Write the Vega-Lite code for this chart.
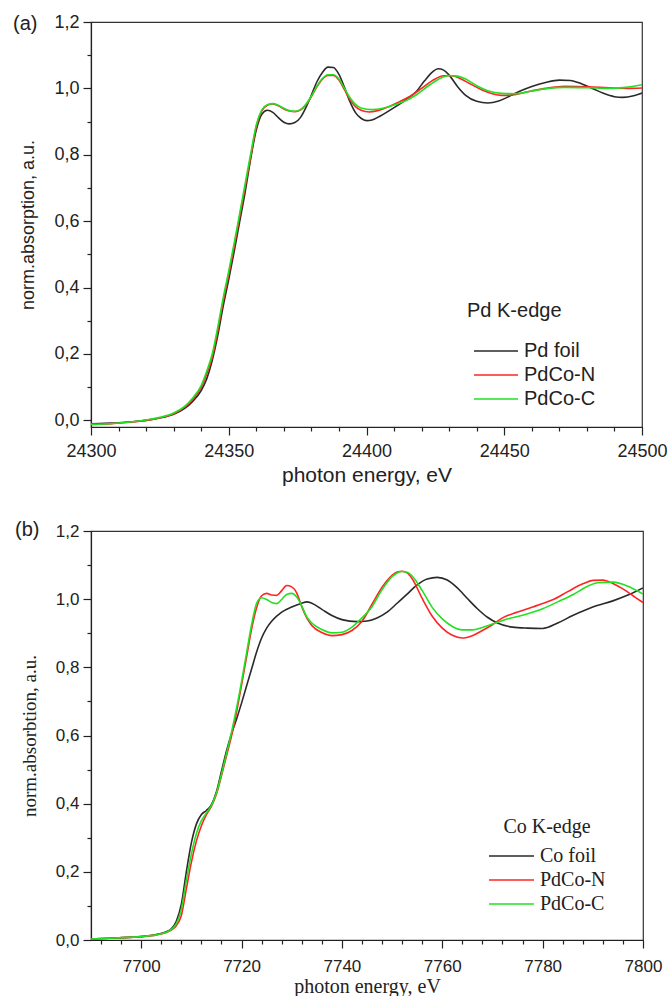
{
"$schema": "https://vega.github.io/schema/vega-lite/v6.json",
"padding": {"left": 12, "top": 12, "right": 0, "bottom": 0},
"background": "white",
"spacing": 33,
"config": {
  "view": {"stroke": "#333", "strokeWidth": 1.2},
  "axis": {"grid": false, "domainColor": "#222", "tickColor": "#222", "labelColor": "#222", "titleColor": "#222", "domainWidth": 1.2, "tickWidth": 1.2, "labelFont": "Liberation Sans", "titleFontWeight": "normal", "labelFlush": false, "labelOverlap": false},
  "legend": {"orient": "none", "symbolType": "stroke", "symbolStrokeWidth": 1.5, "titleFontWeight": "normal", "titleColor": "#222", "labelColor": "#222", "clipHeight": 22, "rowPadding": 2, "labelOffset": 6, "padding": 0},
  "title": {"fontWeight": "normal", "color": "#222"}
},
"resolve": {"scale": {"color": "independent"}, "legend": {"color": "independent"}},
"datasets": {
"pd": [
{"s":"Pd foil","E":24300,"v":-0.010},{"s":"Pd foil","E":24305,"v":-0.009},{"s":"Pd foil","E":24310,"v":-0.007},{"s":"Pd foil","E":24315,"v":-0.004},{"s":"Pd foil","E":24320,"v":0.000},{"s":"Pd foil","E":24325,"v":0.007},{"s":"Pd foil","E":24330,"v":0.018},{"s":"Pd foil","E":24334,"v":0.036},{"s":"Pd foil","E":24337,"v":0.058},{"s":"Pd foil","E":24340,"v":0.090},{"s":"Pd foil","E":24342,"v":0.125},{"s":"Pd foil","E":24344,"v":0.180},{"s":"Pd foil","E":24346,"v":0.255},{"s":"Pd foil","E":24348,"v":0.345},{"s":"Pd foil","E":24350,"v":0.425},{"s":"Pd foil","E":24352,"v":0.510},{"s":"Pd foil","E":24354,"v":0.600},{"s":"Pd foil","E":24356,"v":0.690},{"s":"Pd foil","E":24358,"v":0.790},{"s":"Pd foil","E":24360,"v":0.875},{"s":"Pd foil","E":24362,"v":0.922},{"s":"Pd foil","E":24364,"v":0.934},{"s":"Pd foil","E":24366,"v":0.928},{"s":"Pd foil","E":24368,"v":0.912},{"s":"Pd foil","E":24370,"v":0.898},{"s":"Pd foil","E":24372,"v":0.893},{"s":"Pd foil","E":24374,"v":0.897},{"s":"Pd foil","E":24376,"v":0.912},{"s":"Pd foil","E":24378,"v":0.942},{"s":"Pd foil","E":24380,"v":0.980},{"s":"Pd foil","E":24382,"v":1.020},{"s":"Pd foil","E":24384,"v":1.048},{"s":"Pd foil","E":24386,"v":1.064},{"s":"Pd foil","E":24388,"v":1.063},{"s":"Pd foil","E":24390,"v":1.042},{"s":"Pd foil","E":24392,"v":1.003},{"s":"Pd foil","E":24394,"v":0.960},{"s":"Pd foil","E":24396,"v":0.927},{"s":"Pd foil","E":24398,"v":0.910},{"s":"Pd foil","E":24400,"v":0.903},{"s":"Pd foil","E":24402,"v":0.905},{"s":"Pd foil","E":24405,"v":0.917},{"s":"Pd foil","E":24410,"v":0.942},{"s":"Pd foil","E":24415,"v":0.970},{"s":"Pd foil","E":24418,"v":0.990},{"s":"Pd foil","E":24421,"v":1.022},{"s":"Pd foil","E":24424,"v":1.050},{"s":"Pd foil","E":24426,"v":1.059},{"s":"Pd foil","E":24428,"v":1.055},{"s":"Pd foil","E":24430,"v":1.040},{"s":"Pd foil","E":24433,"v":1.006},{"s":"Pd foil","E":24436,"v":0.979},{"s":"Pd foil","E":24440,"v":0.961},{"s":"Pd foil","E":24444,"v":0.956},{"s":"Pd foil","E":24448,"v":0.962},{"s":"Pd foil","E":24452,"v":0.977},{"s":"Pd foil","E":24456,"v":0.993},{"s":"Pd foil","E":24460,"v":1.006},{"s":"Pd foil","E":24465,"v":1.018},{"s":"Pd foil","E":24470,"v":1.025},{"s":"Pd foil","E":24474,"v":1.024},{"s":"Pd foil","E":24478,"v":1.014},{"s":"Pd foil","E":24482,"v":1.000},{"s":"Pd foil","E":24486,"v":0.985},{"s":"Pd foil","E":24490,"v":0.975},{"s":"Pd foil","E":24493,"v":0.973},{"s":"Pd foil","E":24497,"v":0.978},{"s":"Pd foil","E":24500,"v":0.986},
{"s":"PdCo-N","E":24300,"v":-0.012},{"s":"PdCo-N","E":24305,"v":-0.011},{"s":"PdCo-N","E":24310,"v":-0.008},{"s":"PdCo-N","E":24315,"v":-0.005},{"s":"PdCo-N","E":24320,"v":0.000},{"s":"PdCo-N","E":24325,"v":0.008},{"s":"PdCo-N","E":24330,"v":0.020},{"s":"PdCo-N","E":24334,"v":0.040},{"s":"PdCo-N","E":24337,"v":0.064},{"s":"PdCo-N","E":24340,"v":0.100},{"s":"PdCo-N","E":24342,"v":0.140},{"s":"PdCo-N","E":24344,"v":0.190},{"s":"PdCo-N","E":24346,"v":0.270},{"s":"PdCo-N","E":24348,"v":0.360},{"s":"PdCo-N","E":24350,"v":0.440},{"s":"PdCo-N","E":24352,"v":0.525},{"s":"PdCo-N","E":24354,"v":0.615},{"s":"PdCo-N","E":24356,"v":0.705},{"s":"PdCo-N","E":24358,"v":0.795},{"s":"PdCo-N","E":24360,"v":0.885},{"s":"PdCo-N","E":24362,"v":0.932},{"s":"PdCo-N","E":24364,"v":0.949},{"s":"PdCo-N","E":24366,"v":0.953},{"s":"PdCo-N","E":24368,"v":0.948},{"s":"PdCo-N","E":24370,"v":0.938},{"s":"PdCo-N","E":24372,"v":0.932},{"s":"PdCo-N","E":24374,"v":0.930},{"s":"PdCo-N","E":24376,"v":0.935},{"s":"PdCo-N","E":24378,"v":0.950},{"s":"PdCo-N","E":24380,"v":0.975},{"s":"PdCo-N","E":24382,"v":1.005},{"s":"PdCo-N","E":24384,"v":1.028},{"s":"PdCo-N","E":24386,"v":1.039},{"s":"PdCo-N","E":24388,"v":1.039},{"s":"PdCo-N","E":24390,"v":1.025},{"s":"PdCo-N","E":24392,"v":0.996},{"s":"PdCo-N","E":24394,"v":0.966},{"s":"PdCo-N","E":24396,"v":0.945},{"s":"PdCo-N","E":24398,"v":0.934},{"s":"PdCo-N","E":24401,"v":0.929},{"s":"PdCo-N","E":24404,"v":0.933},{"s":"PdCo-N","E":24408,"v":0.945},{"s":"PdCo-N","E":24412,"v":0.960},{"s":"PdCo-N","E":24416,"v":0.977},{"s":"PdCo-N","E":24420,"v":1.000},{"s":"PdCo-N","E":24424,"v":1.024},{"s":"PdCo-N","E":24428,"v":1.038},{"s":"PdCo-N","E":24431,"v":1.038},{"s":"PdCo-N","E":24434,"v":1.030},{"s":"PdCo-N","E":24438,"v":1.012},{"s":"PdCo-N","E":24442,"v":0.995},{"s":"PdCo-N","E":24446,"v":0.983},{"s":"PdCo-N","E":24449,"v":0.979},{"s":"PdCo-N","E":24453,"v":0.980},{"s":"PdCo-N","E":24458,"v":0.989},{"s":"PdCo-N","E":24465,"v":1.000},{"s":"PdCo-N","E":24472,"v":1.006},{"s":"PdCo-N","E":24480,"v":1.005},{"s":"PdCo-N","E":24488,"v":1.002},{"s":"PdCo-N","E":24495,"v":1.000},{"s":"PdCo-N","E":24500,"v":1.001},
{"s":"PdCo-C","E":24300,"v":-0.012},{"s":"PdCo-C","E":24305,"v":-0.011},{"s":"PdCo-C","E":24310,"v":-0.008},{"s":"PdCo-C","E":24315,"v":-0.004},{"s":"PdCo-C","E":24320,"v":0.001},{"s":"PdCo-C","E":24325,"v":0.009},{"s":"PdCo-C","E":24330,"v":0.022},{"s":"PdCo-C","E":24334,"v":0.042},{"s":"PdCo-C","E":24337,"v":0.068},{"s":"PdCo-C","E":24340,"v":0.105},{"s":"PdCo-C","E":24342,"v":0.148},{"s":"PdCo-C","E":24344,"v":0.200},{"s":"PdCo-C","E":24346,"v":0.280},{"s":"PdCo-C","E":24348,"v":0.370},{"s":"PdCo-C","E":24350,"v":0.450},{"s":"PdCo-C","E":24352,"v":0.535},{"s":"PdCo-C","E":24354,"v":0.625},{"s":"PdCo-C","E":24356,"v":0.715},{"s":"PdCo-C","E":24358,"v":0.805},{"s":"PdCo-C","E":24360,"v":0.890},{"s":"PdCo-C","E":24362,"v":0.935},{"s":"PdCo-C","E":24364,"v":0.951},{"s":"PdCo-C","E":24366,"v":0.954},{"s":"PdCo-C","E":24368,"v":0.949},{"s":"PdCo-C","E":24370,"v":0.940},{"s":"PdCo-C","E":24372,"v":0.933},{"s":"PdCo-C","E":24374,"v":0.931},{"s":"PdCo-C","E":24376,"v":0.936},{"s":"PdCo-C","E":24378,"v":0.952},{"s":"PdCo-C","E":24380,"v":0.977},{"s":"PdCo-C","E":24382,"v":1.007},{"s":"PdCo-C","E":24384,"v":1.030},{"s":"PdCo-C","E":24386,"v":1.041},{"s":"PdCo-C","E":24388,"v":1.041},{"s":"PdCo-C","E":24390,"v":1.028},{"s":"PdCo-C","E":24392,"v":1.000},{"s":"PdCo-C","E":24394,"v":0.972},{"s":"PdCo-C","E":24396,"v":0.952},{"s":"PdCo-C","E":24398,"v":0.941},{"s":"PdCo-C","E":24402,"v":0.936},{"s":"PdCo-C","E":24406,"v":0.940},{"s":"PdCo-C","E":24410,"v":0.950},{"s":"PdCo-C","E":24414,"v":0.962},{"s":"PdCo-C","E":24418,"v":0.980},{"s":"PdCo-C","E":24422,"v":1.005},{"s":"PdCo-C","E":24426,"v":1.027},{"s":"PdCo-C","E":24430,"v":1.039},{"s":"PdCo-C","E":24433,"v":1.037},{"s":"PdCo-C","E":24436,"v":1.028},{"s":"PdCo-C","E":24440,"v":1.008},{"s":"PdCo-C","E":24444,"v":0.993},{"s":"PdCo-C","E":24449,"v":0.985},{"s":"PdCo-C","E":24454,"v":0.984},{"s":"PdCo-C","E":24460,"v":0.992},{"s":"PdCo-C","E":24466,"v":1.000},{"s":"PdCo-C","E":24472,"v":1.003},{"s":"PdCo-C","E":24480,"v":1.002},{"s":"PdCo-C","E":24488,"v":1.000},{"s":"PdCo-C","E":24494,"v":1.003},{"s":"PdCo-C","E":24500,"v":1.011}
],
"co": [
{"s":"Co foil","E":7690,"v":0.003},{"s":"Co foil","E":7695,"v":0.006},{"s":"Co foil","E":7700,"v":0.010},{"s":"Co foil","E":7703,"v":0.016},{"s":"Co foil","E":7705,"v":0.024},{"s":"Co foil","E":7706,"v":0.033},{"s":"Co foil","E":7707,"v":0.055},{"s":"Co foil","E":7708,"v":0.105},{"s":"Co foil","E":7709,"v":0.200},{"s":"Co foil","E":7710,"v":0.285},{"s":"Co foil","E":7711,"v":0.340},{"s":"Co foil","E":7712,"v":0.368},{"s":"Co foil","E":7713,"v":0.380},{"s":"Co foil","E":7714,"v":0.397},{"s":"Co foil","E":7715,"v":0.435},{"s":"Co foil","E":7716,"v":0.495},{"s":"Co foil","E":7717,"v":0.555},{"s":"Co foil","E":7718,"v":0.605},{"s":"Co foil","E":7719,"v":0.648},{"s":"Co foil","E":7720,"v":0.695},{"s":"Co foil","E":7721,"v":0.745},{"s":"Co foil","E":7722,"v":0.795},{"s":"Co foil","E":7723,"v":0.845},{"s":"Co foil","E":7724,"v":0.886},{"s":"Co foil","E":7725,"v":0.915},{"s":"Co foil","E":7726,"v":0.935},{"s":"Co foil","E":7727,"v":0.950},{"s":"Co foil","E":7728,"v":0.962},{"s":"Co foil","E":7730,"v":0.977},{"s":"Co foil","E":7732,"v":0.988},{"s":"Co foil","E":7733,"v":0.992},{"s":"Co foil","E":7734,"v":0.988},{"s":"Co foil","E":7736,"v":0.970},{"s":"Co foil","E":7738,"v":0.952},{"s":"Co foil","E":7740,"v":0.940},{"s":"Co foil","E":7743,"v":0.934},{"s":"Co foil","E":7745,"v":0.936},{"s":"Co foil","E":7747,"v":0.945},{"s":"Co foil","E":7749,"v":0.962},{"s":"Co foil","E":7751,"v":0.988},{"s":"Co foil","E":7753,"v":1.015},{"s":"Co foil","E":7755,"v":1.042},{"s":"Co foil","E":7757,"v":1.059},{"s":"Co foil","E":7759,"v":1.064},{"s":"Co foil","E":7761,"v":1.056},{"s":"Co foil","E":7763,"v":1.033},{"s":"Co foil","E":7765,"v":1.002},{"s":"Co foil","E":7767,"v":0.972},{"s":"Co foil","E":7769,"v":0.947},{"s":"Co foil","E":7771,"v":0.930},{"s":"Co foil","E":7774,"v":0.918},{"s":"Co foil","E":7777,"v":0.915},{"s":"Co foil","E":7780,"v":0.914},{"s":"Co foil","E":7783,"v":0.930},{"s":"Co foil","E":7786,"v":0.952},{"s":"Co foil","E":7790,"v":0.977},{"s":"Co foil","E":7794,"v":0.995},{"s":"Co foil","E":7797,"v":1.012},{"s":"Co foil","E":7800,"v":1.033},
{"s":"PdCo-N","E":7690,"v":0.003},{"s":"PdCo-N","E":7695,"v":0.006},{"s":"PdCo-N","E":7700,"v":0.010},{"s":"PdCo-N","E":7703,"v":0.015},{"s":"PdCo-N","E":7705,"v":0.022},{"s":"PdCo-N","E":7706,"v":0.029},{"s":"PdCo-N","E":7707,"v":0.042},{"s":"PdCo-N","E":7708,"v":0.072},{"s":"PdCo-N","E":7709,"v":0.150},{"s":"PdCo-N","E":7710,"v":0.228},{"s":"PdCo-N","E":7711,"v":0.290},{"s":"PdCo-N","E":7712,"v":0.335},{"s":"PdCo-N","E":7713,"v":0.368},{"s":"PdCo-N","E":7714,"v":0.392},{"s":"PdCo-N","E":7715,"v":0.428},{"s":"PdCo-N","E":7716,"v":0.482},{"s":"PdCo-N","E":7717,"v":0.540},{"s":"PdCo-N","E":7718,"v":0.598},{"s":"PdCo-N","E":7719,"v":0.668},{"s":"PdCo-N","E":7720,"v":0.748},{"s":"PdCo-N","E":7721,"v":0.830},{"s":"PdCo-N","E":7722,"v":0.912},{"s":"PdCo-N","E":7723,"v":0.975},{"s":"PdCo-N","E":7724,"v":1.010},{"s":"PdCo-N","E":7725,"v":1.017},{"s":"PdCo-N","E":7726,"v":1.012},{"s":"PdCo-N","E":7727,"v":1.011},{"s":"PdCo-N","E":7728,"v":1.025},{"s":"PdCo-N","E":7729,"v":1.040},{"s":"PdCo-N","E":7730,"v":1.036},{"s":"PdCo-N","E":7731,"v":1.018},{"s":"PdCo-N","E":7732,"v":0.978},{"s":"PdCo-N","E":7733,"v":0.945},{"s":"PdCo-N","E":7734,"v":0.923},{"s":"PdCo-N","E":7736,"v":0.902},{"s":"PdCo-N","E":7738,"v":0.893},{"s":"PdCo-N","E":7740,"v":0.896},{"s":"PdCo-N","E":7742,"v":0.908},{"s":"PdCo-N","E":7744,"v":0.935},{"s":"PdCo-N","E":7746,"v":0.985},{"s":"PdCo-N","E":7748,"v":1.035},{"s":"PdCo-N","E":7750,"v":1.070},{"s":"PdCo-N","E":7751,"v":1.080},{"s":"PdCo-N","E":7752,"v":1.082},{"s":"PdCo-N","E":7753,"v":1.077},{"s":"PdCo-N","E":7754,"v":1.060},{"s":"PdCo-N","E":7756,"v":1.002},{"s":"PdCo-N","E":7758,"v":0.950},{"s":"PdCo-N","E":7760,"v":0.915},{"s":"PdCo-N","E":7762,"v":0.894},{"s":"PdCo-N","E":7764,"v":0.886},{"s":"PdCo-N","E":7766,"v":0.893},{"s":"PdCo-N","E":7768,"v":0.908},{"s":"PdCo-N","E":7770,"v":0.925},{"s":"PdCo-N","E":7772,"v":0.945},{"s":"PdCo-N","E":7775,"v":0.962},{"s":"PdCo-N","E":7778,"v":0.977},{"s":"PdCo-N","E":7780,"v":0.987},{"s":"PdCo-N","E":7782,"v":0.998},{"s":"PdCo-N","E":7785,"v":1.022},{"s":"PdCo-N","E":7788,"v":1.045},{"s":"PdCo-N","E":7790,"v":1.055},{"s":"PdCo-N","E":7792,"v":1.056},{"s":"PdCo-N","E":7794,"v":1.046},{"s":"PdCo-N","E":7796,"v":1.030},{"s":"PdCo-N","E":7798,"v":1.010},{"s":"PdCo-N","E":7800,"v":0.990},
{"s":"PdCo-C","E":7690,"v":0.003},{"s":"PdCo-C","E":7695,"v":0.006},{"s":"PdCo-C","E":7700,"v":0.010},{"s":"PdCo-C","E":7703,"v":0.015},{"s":"PdCo-C","E":7705,"v":0.023},{"s":"PdCo-C","E":7706,"v":0.031},{"s":"PdCo-C","E":7707,"v":0.048},{"s":"PdCo-C","E":7708,"v":0.090},{"s":"PdCo-C","E":7709,"v":0.175},{"s":"PdCo-C","E":7710,"v":0.252},{"s":"PdCo-C","E":7711,"v":0.312},{"s":"PdCo-C","E":7712,"v":0.350},{"s":"PdCo-C","E":7713,"v":0.373},{"s":"PdCo-C","E":7714,"v":0.395},{"s":"PdCo-C","E":7715,"v":0.431},{"s":"PdCo-C","E":7716,"v":0.487},{"s":"PdCo-C","E":7717,"v":0.547},{"s":"PdCo-C","E":7718,"v":0.610},{"s":"PdCo-C","E":7719,"v":0.680},{"s":"PdCo-C","E":7720,"v":0.758},{"s":"PdCo-C","E":7721,"v":0.842},{"s":"PdCo-C","E":7722,"v":0.925},{"s":"PdCo-C","E":7723,"v":0.988},{"s":"PdCo-C","E":7724,"v":1.004},{"s":"PdCo-C","E":7725,"v":0.999},{"s":"PdCo-C","E":7726,"v":0.990},{"s":"PdCo-C","E":7727,"v":0.987},{"s":"PdCo-C","E":7728,"v":0.999},{"s":"PdCo-C","E":7729,"v":1.014},{"s":"PdCo-C","E":7730,"v":1.017},{"s":"PdCo-C","E":7731,"v":1.006},{"s":"PdCo-C","E":7732,"v":0.980},{"s":"PdCo-C","E":7733,"v":0.948},{"s":"PdCo-C","E":7734,"v":0.930},{"s":"PdCo-C","E":7736,"v":0.911},{"s":"PdCo-C","E":7738,"v":0.901},{"s":"PdCo-C","E":7740,"v":0.903},{"s":"PdCo-C","E":7742,"v":0.918},{"s":"PdCo-C","E":7744,"v":0.945},{"s":"PdCo-C","E":7746,"v":0.978},{"s":"PdCo-C","E":7748,"v":1.028},{"s":"PdCo-C","E":7750,"v":1.066},{"s":"PdCo-C","E":7751,"v":1.077},{"s":"PdCo-C","E":7752,"v":1.081},{"s":"PdCo-C","E":7753,"v":1.079},{"s":"PdCo-C","E":7754,"v":1.068},{"s":"PdCo-C","E":7756,"v":1.025},{"s":"PdCo-C","E":7758,"v":0.976},{"s":"PdCo-C","E":7760,"v":0.942},{"s":"PdCo-C","E":7762,"v":0.920},{"s":"PdCo-C","E":7764,"v":0.910},{"s":"PdCo-C","E":7766,"v":0.910},{"s":"PdCo-C","E":7768,"v":0.917},{"s":"PdCo-C","E":7770,"v":0.927},{"s":"PdCo-C","E":7773,"v":0.942},{"s":"PdCo-C","E":7776,"v":0.953},{"s":"PdCo-C","E":7780,"v":0.972},{"s":"PdCo-C","E":7783,"v":0.992},{"s":"PdCo-C","E":7786,"v":1.013},{"s":"PdCo-C","E":7789,"v":1.038},{"s":"PdCo-C","E":7791,"v":1.048},{"s":"PdCo-C","E":7794,"v":1.050},{"s":"PdCo-C","E":7797,"v":1.038},{"s":"PdCo-C","E":7800,"v":1.015}
]
},
"vconcat": [
{
  "title": {"text": "(a)", "anchor": "start", "frame": "group", "orient": "top", "dx": -78, "dy": 21, "offset": 0, "font": "Liberation Sans", "fontSize": 20},
  "width": 551, "height": 405,
  "data": {"name": "pd"},
  "resolve": {"axis": {"x": "independent", "y": "independent"}},
  "layer": [
    {
      "mark": {"type": "line", "strokeWidth": 1.6, "interpolate": "monotone", "clip": true},
      "encoding": {
        "x": {"field": "E", "type": "quantitative", "scale": {"domain": [24300, 24500], "nice": false, "zero": false},
              "axis": {"orient": "bottom", "values": [24300, 24350, 24400, 24450, 24500], "format": "d", "tickSize": 8, "labelFontSize": 18, "labelPadding": 7, "title": "photon energy, eV", "titleFont": "Liberation Sans", "titleFontSize": 21, "titlePadding": 4}},
        "y": {"field": "v", "type": "quantitative", "scale": {"domain": [-0.02, 1.2], "nice": false, "zero": false},
              "axis": {"orient": "left", "values": [0, 0.2, 0.4, 0.6, 0.8, 1.0, 1.2], "labelExpr": "replace(format(datum.value, '.1f'), '.', ',')", "tickSize": 8, "labelFontSize": 18, "labelPadding": 4, "title": "norm.absorption, a.u.", "titleFont": "Liberation Sans", "titleFontSize": 18, "titlePadding": 16}},
        "color": {"field": "s", "type": "nominal", "scale": {"domain": ["Pd foil", "PdCo-N", "PdCo-C"], "range": ["#2a2a2a", "#ff2424", "#22e022"]},
                  "legend": {"title": "Pd K-edge", "legendX": 376, "legendY": 279, "titleFont": "Liberation Sans", "titleFontSize": 20, "titlePadding": 19, "titleAnchor": "start", "labelFont": "Liberation Sans", "labelFontSize": 20, "symbolSize": 1936, "symbolOffset": 6, "labelOffset": 5}}
      }
    },
    {
      "mark": {"type": "line", "opacity": 0},
      "encoding": {
        "x": {"field": "E", "type": "quantitative", "scale": {"domain": [24300, 24500], "nice": false, "zero": false},
              "axis": {"orient": "bottom", "values": [24310, 24320, 24330, 24340, 24360, 24370, 24380, 24390, 24410, 24420, 24430, 24440, 24460, 24470, 24480, 24490], "labels": false, "domain": false, "tickSize": 4, "title": null}},
        "y": {"field": "v", "type": "quantitative", "scale": {"domain": [-0.02, 1.2], "nice": false, "zero": false},
              "axis": {"orient": "left", "values": [0.1, 0.3, 0.5, 0.7, 0.9, 1.1], "labels": false, "domain": false, "tickSize": 4, "title": null}},
        "detail": {"field": "s"}
      }
    }
  ]
},
{
  "title": {"text": "(b)", "anchor": "start", "frame": "group", "orient": "top", "dx": -76, "dy": 18, "offset": 0, "font": "Liberation Sans", "fontSize": 20},
  "width": 552, "height": 409,
  "data": {"name": "co"},
  "resolve": {"axis": {"x": "independent", "y": "independent"}},
  "layer": [
    {
      "mark": {"type": "line", "strokeWidth": 1.6, "interpolate": "monotone", "clip": true},
      "encoding": {
        "x": {"field": "E", "type": "quantitative", "scale": {"domain": [7690, 7800], "nice": false, "zero": false},
              "axis": {"orient": "bottom", "values": [7700, 7720, 7740, 7760, 7780, 7800], "format": "d", "tickSize": 8, "labelFontSize": 17, "labelPadding": 10, "title": "photon energy, eV", "titleFont": "Liberation Serif", "titleFontSize": 20, "titlePadding": 2}},
        "y": {"field": "v", "type": "quantitative", "scale": {"domain": [0, 1.2], "nice": false, "zero": false},
              "axis": {"orient": "left", "values": [0, 0.2, 0.4, 0.6, 0.8, 1.0, 1.2], "labelExpr": "replace(format(datum.value, '.1f'), '.', ',')", "tickSize": 8, "labelFontSize": 17, "labelPadding": 4, "title": "norm.absorbtion, a.u.", "titleFont": "Liberation Serif", "titleFontSize": 19, "titlePadding": 16}},
        "color": {"field": "s", "type": "nominal", "scale": {"domain": ["Co foil", "PdCo-N", "PdCo-C"], "range": ["#2a2a2a", "#ff2424", "#22e022"]},
                  "legend": {"title": "Co K-edge", "legendX": 397, "legendY": 286, "titleFont": "Liberation Serif", "titleFontSize": 20, "titlePadding": 8, "titleAnchor": "middle", "labelFont": "Liberation Serif", "labelFontSize": 20, "symbolSize": 2025, "rowPadding": 2, "labelOffset": 5}}
      }
    },
    {
      "mark": {"type": "line", "opacity": 0},
      "encoding": {
        "x": {"field": "E", "type": "quantitative", "scale": {"domain": [7690, 7800], "nice": false, "zero": false},
              "axis": {"orient": "bottom", "values": [7692, 7696, 7704, 7708, 7712, 7716, 7724, 7728, 7732, 7736, 7744, 7748, 7752, 7756, 7764, 7768, 7772, 7776, 7784, 7788, 7792, 7796], "labels": false, "domain": false, "tickSize": 4, "title": null}},
        "y": {"field": "v", "type": "quantitative", "scale": {"domain": [0, 1.2], "nice": false, "zero": false},
              "axis": {"orient": "left", "values": [0.1, 0.3, 0.5, 0.7, 0.9, 1.1], "labels": false, "domain": false, "tickSize": 4, "title": null}},
        "detail": {"field": "s"}
      }
    }
  ]
}
]
}
